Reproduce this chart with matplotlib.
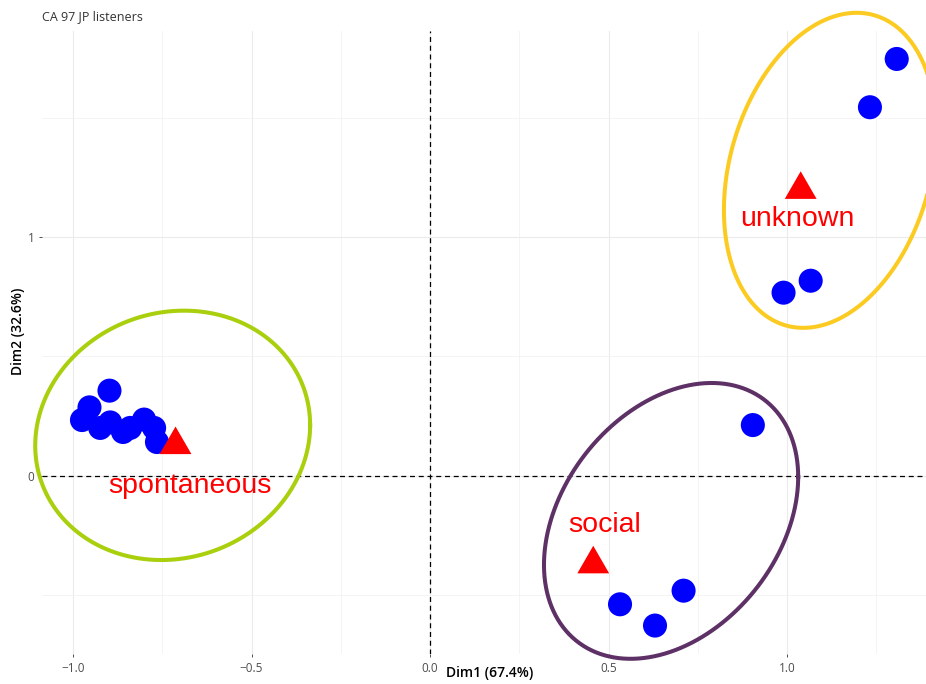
import numpy as np
import matplotlib
matplotlib.use("Agg")
import matplotlib.pyplot as plt
from matplotlib.ticker import FixedLocator

plt.rcParams['font.family'] = ['Open Sans', 'DejaVu Sans']

# row points (listener responses) - blue
row_x = [-0.898, -0.954, -0.975, -0.924, -0.896, -0.860, -0.840, -0.801, -0.773, -0.765,
         0.904, 0.710, 0.532, 0.630,
         1.307, 1.232, 1.066, 0.990]
row_y = [0.357, 0.287, 0.234, 0.201, 0.224, 0.184, 0.201, 0.236, 0.201, 0.142,
         0.213, -0.480, -0.537, -0.626,
         1.745, 1.543, 0.817, 0.767]

# column points (categories) - red triangles
col_names = ["spontaneous", "social", "unknown"]
col_x = [-0.713, 0.457, 1.038]
col_y = [0.130, -0.369, 1.198]
label_x = [-0.674, 0.489, 1.029]
label_y = [-0.072, -0.233, 1.047]

# ellipses: centre, x half-width, y offset at x-extreme, remaining y half-extent
ell_cx = [-0.721, 0.675, 1.120]
ell_cy = [0.170, -0.188, 1.279]
ell_a = [0.385, 0.356, 0.297]
ell_b = [0.043, 0.184, 0.166]
ell_c = [0.520, 0.547, 0.638]
ell_colors = ["#A9CF0D", "#5E3166", "#FCCB22"]

fig = plt.figure(figsize=(9.26, 6.84), dpi=100)
ax = fig.add_axes([42/926, 30/684, 884/926, 623/684])
ax.set_xlim(-1.087, 1.389)
ax.set_ylim(-0.745, 1.862)

for s in ax.spines.values():
    s.set_visible(False)

ax.xaxis.set_major_locator(FixedLocator([-1.0, -0.5, 0.0, 0.5, 1.0]))
ax.xaxis.set_minor_locator(FixedLocator([-0.75, -0.25, 0.25, 0.75, 1.25]))
ax.yaxis.set_major_locator(FixedLocator([0, 1]))
ax.yaxis.set_minor_locator(FixedLocator([-0.5, 0.5, 1.5]))
ax.set_xticklabels(["\u22121.0", "\u22120.5", "0.0", "0.5", "1.0"])
ax.set_yticklabels(["0", "1"])
ax.grid(which='major', color='#EBEBEB', lw=0.8)
ax.grid(which='minor', color='#F2F2F2', lw=0.6)
ax.set_axisbelow(True)
ax.tick_params(which='major', length=2.5, width=0.6, color='#333333',
               labelsize=8.5, labelcolor='#4D4D4D', pad=3)
ax.tick_params(which='minor', length=0)

ax.axhline(0, color='black', lw=0.9, ls=(0, (4, 3)), zorder=1)
ax.axvline(0, color='black', lw=0.9, ls=(0, (4, 3)), zorder=1)

t = np.linspace(0, 2*np.pi, 300)
for i in range(3):
    ex = ell_cx[i] + ell_a[i]*np.cos(t)
    ey = ell_cy[i] + ell_b[i]*np.cos(t) + ell_c[i]*np.sin(t)
    ax.plot(ex, ey, color=ell_colors[i], lw=2.9, clip_on=False, zorder=2)

ax.scatter(row_x, row_y, s=300, color='#0000FF', edgecolors='none', zorder=3)

tri = [(0, 0.577), (-0.5, -0.289), (0.5, -0.289)]
ax.scatter(col_x, col_y, s=700, marker=tri, color='#FF0000', edgecolors='none', zorder=4)
for i, name in enumerate(col_names):
    ax.text(label_x[i], label_y[i], name, color='#FF0000', fontsize=20.5,
            family='Liberation Sans', ha='center', va='baseline', zorder=5)

ax.set_xlabel("Dim1 (67.4%)", fontsize=10, fontweight='semibold', color='black',
              va='center')
ax.xaxis.set_label_coords((490-42)/884, -(673-654)/623)
ax.set_ylabel("Dim2 (32.6%)", fontsize=10, fontweight='semibold', color='black',
              va='center')
ax.yaxis.set_label_coords(-(42-18)/884, (654-331)/623)

fig.text(42/926, 1-17/684, "CA 97 JP listeners", fontsize=9, color='#333333',
         ha='left', va='center')

fig.savefig("out.png", dpi=100)
